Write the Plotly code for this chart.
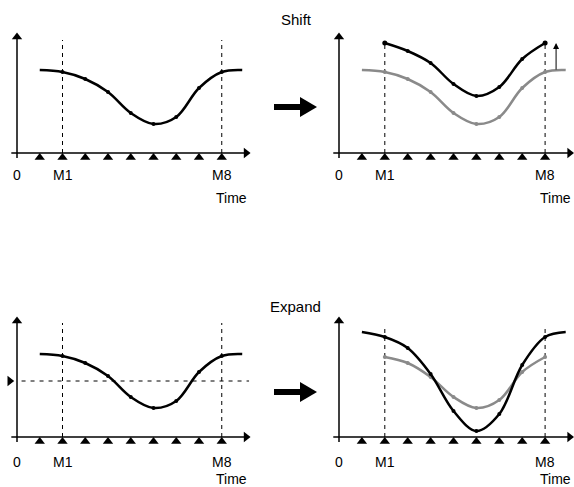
import plotly.graph_objects as go

W, H = 574, 487

# ---- data ----
t_marks = [1, 2, 3, 4, 5, 6, 7, 8, 9]
t_curve = [1, 2, 3, 4, 5, 6, 7, 8, 9, 9.9]
base_curve = [83, 81, 74, 61, 40, 29, 36, 65, 81, 83]
t_inner = [2, 3, 4, 5, 6, 7, 8, 9]
shifted = [110, 102, 90, 69, 57, 66, 94, 110]
mean_level = 56
grey_inner = [80, 74, 60, 40, 29, 37, 65, 80]
expanded = [105, 100, 89, 63, 26, 6, 23, 72, 100, 105]
tick_labels = {0: "0", 2: "M1", 9: "M8"}

BLACK = "#000000"
GREY = "#8a8a8a"
FONT = "Liberation Sans, Arial, sans-serif"

# panel geometry: (x px left, x px right, origin px x, px per step, y px top, y px bottom, axis px y)
panels = [
    (0, 262, 17, 22.75, 25, 210, 153),
    (288, 574, 339, 22.9, 25, 210, 153),
    (0, 262, 17, 22.75, 305, 487, 437),
    (288, 574, 339, 22.9, 305, 487, 437),
]

fig = go.Figure()
layout_axes = {}
for i, (L, R, x0, dx, T, B, ay) in enumerate(panels):
    n = "" if i == 0 else str(i + 1)
    layout_axes["xaxis" + n] = dict(domain=[L / W, R / W], range=[(L - x0) / dx, (R - x0) / dx],
                                   visible=False, fixedrange=True)
    layout_axes["yaxis" + n] = dict(domain=[1 - B / H, 1 - T / H], range=[ay - B, ay - T],
                                   visible=False, fixedrange=True)


def ax_names(i):
    n = "" if i == 0 else str(i + 1)
    return "x" + n, "y" + n


def add_frame(i, dash_top):
    xr, yr = ax_names(i)
    # axes
    fig.add_trace(go.Scatter(x=[0, 0], y=[-5, 116], mode="lines", line=dict(color=BLACK, width=1.5),
                             xaxis=xr, yaxis=yr, hoverinfo="skip"))
    fig.add_trace(go.Scatter(x=[-0.25, 10.05], y=[0, 0], mode="lines", line=dict(color=BLACK, width=1.5),
                             xaxis=xr, yaxis=yr, hoverinfo="skip"))
    fig.add_trace(go.Scatter(x=[0], y=[116], mode="markers", marker=dict(symbol="triangle-up", size=9, color=BLACK),
                             xaxis=xr, yaxis=yr, hoverinfo="skip", cliponaxis=False))
    fig.add_trace(go.Scatter(x=[10.07], y=[0], mode="markers", marker=dict(symbol="triangle-right", size=9, color=BLACK),
                             xaxis=xr, yaxis=yr, hoverinfo="skip", cliponaxis=False))
    # measurement triangles
    fig.add_trace(go.Scatter(x=t_marks, y=[-4.5] * len(t_marks), mode="markers",
                             marker=dict(symbol="triangle-up", size=9, color=BLACK),
                             xaxis=xr, yaxis=yr, hoverinfo="skip"))
    # dashed verticals at M1 and M8
    for tx in (2, 9):
        fig.add_trace(go.Scatter(x=[tx, tx], y=[0, dash_top], mode="lines",
                                 line=dict(color=BLACK, width=1, dash="4px,4px"),
                                 xaxis=xr, yaxis=yr, hoverinfo="skip"))
    # labels
    lab_y = -22 if i < 2 else -25
    time_y = -45 if i < 2 else -42
    for tx, txt in tick_labels.items():
        fig.add_annotation(x=tx, y=lab_y, text=txt, showarrow=False, xref=xr, yref=yr,
                           font=dict(size=14, family=FONT, color=BLACK))
    fig.add_annotation(x=9.45, y=time_y, text="Time", showarrow=False, xref=xr, yref=yr,
                       font=dict(size=14, family=FONT, color=BLACK))


def add_curve(i, xs, ys, color, dots, big_ends=False):
    xr, yr = ax_names(i)
    fig.add_trace(go.Scatter(x=xs, y=ys, mode="lines", line=dict(color=color, width=2.5, shape="spline", smoothing=1),
                             xaxis=xr, yaxis=yr, hoverinfo="skip"))
    dx_ = [x for x in xs if x in dots]
    dy_ = [y for x, y in zip(xs, ys) if x in dots]
    fig.add_trace(go.Scatter(x=dx_, y=dy_, mode="markers", marker=dict(color=color, size=4),
                             xaxis=xr, yaxis=yr, hoverinfo="skip"))
    if big_ends:
        fig.add_trace(go.Scatter(x=[xs[0], xs[-1]], y=[ys[0], ys[-1]], mode="markers",
                                 marker=dict(color=color, size=5), xaxis=xr, yaxis=yr, hoverinfo="skip"))


# panel 1
add_frame(0, 113)
add_curve(0, t_curve, base_curve, BLACK, t_inner)
# panel 2
add_frame(1, 110)
add_curve(1, t_curve, base_curve, GREY, t_inner)
add_curve(1, t_inner, shifted, BLACK, t_inner, big_ends=True)
fig.add_annotation(x=9.48, y=max(shifted), ax=9.48, ay=base_curve[-1] - 1, xref="x2", yref="y2",
                   axref="x2", ayref="y2", showarrow=True, arrowhead=2, arrowsize=1.2, arrowwidth=1,
                   arrowcolor=BLACK, text="")
# panel 3
add_frame(2, 114)
add_curve(2, t_curve, base_curve, BLACK, t_inner)
fig.add_trace(go.Scatter(x=[0.2, 10.2], y=[mean_level, mean_level], mode="lines",
                         line=dict(color=BLACK, width=1, dash="4px,5px"), xaxis="x3", yaxis="y3", hoverinfo="skip"))
fig.add_trace(go.Scatter(x=[-0.32], y=[mean_level], mode="markers",
                         marker=dict(symbol="triangle-right", size=9, color=BLACK),
                         xaxis="x3", yaxis="y3", hoverinfo="skip", cliponaxis=False))
# panel 4
add_frame(3, 112)
add_curve(3, t_inner, grey_inner, GREY, t_inner)
add_curve(3, t_curve, expanded, BLACK, t_inner)

# big transition arrows and titles (paper coordinates from pixel positions)
def px(xp, yp):
    return xp / W, 1 - yp / H

for ycen in (107, 392):
    x1, y1 = px(274, ycen)
    x2, y2 = px(303, ycen)
    fig.add_shape(type="line", x0=x1, y0=y1, x1=x2, y1=y2, xref="paper", yref="paper",
                  line=dict(color=BLACK, width=6))
    a, b = px(300, ycen - 10)
    c, d = px(317, ycen)
    e, f = px(300, ycen + 10)
    fig.add_shape(type="path", path=f"M {a} {b} L {c} {d} L {e} {f} Z", xref="paper", yref="paper",
                  fillcolor=BLACK, line=dict(color=BLACK, width=0))

for txt, (xp, yp) in (("Shift", (296, 20)), ("Expand", (295, 306))):
    xx, yy = px(xp, yp)
    fig.add_annotation(x=xx, y=yy, xref="paper", yref="paper", text=txt, showarrow=False,
                       xanchor="center", yanchor="middle",
                       font=dict(size=15, family=FONT, color=BLACK))

fig.update_layout(width=W, height=H, margin=dict(l=0, r=0, t=0, b=0), showlegend=False,
                  paper_bgcolor="white", plot_bgcolor="white", hovermode=False, **layout_axes)

fig.write_html("out.html", config={"displayModeBar": False, "staticPlot": True},
               post_script="document.body.style.margin='0px';")
